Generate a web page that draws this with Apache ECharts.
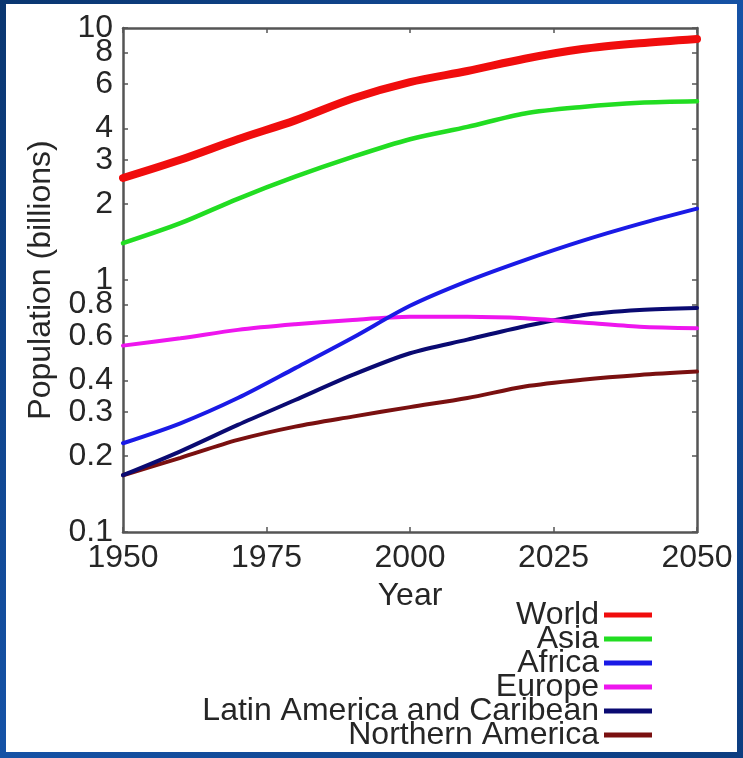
<!DOCTYPE html>
<html>
<head>
<meta charset="utf-8">
<script src="https://cdn.jsdelivr.net/npm/echarts@6/dist/echarts.min.js"></script>
<style>
html,body{margin:0;padding:0;background:#0d3f85;}
#chart{width:743px;height:758px;}
</style>
</head>
<body>
<div id="chart"></div>
<script>
// ---- data ----
const years = [1950, 1960, 1970, 1980, 1990, 2000, 2010, 2020, 2030, 2040, 2050];
const seriesNames = ['World', 'Asia', 'Africa', 'Europe', 'Latin America and Caribean', 'Northern America'];
const world    = [2.54, 3.00, 3.62, 4.30, 5.25, 6.10, 6.75, 7.55, 8.25, 8.70, 9.05];
const asia     = [1.40, 1.68, 2.10, 2.57, 3.08, 3.62, 4.05, 4.58, 4.86, 5.05, 5.12];
const africa   = [0.225, 0.270, 0.340, 0.447, 0.590, 0.790, 0.990, 1.20, 1.43, 1.67, 1.92];
const europe   = [0.549, 0.587, 0.634, 0.667, 0.694, 0.714, 0.715, 0.705, 0.678, 0.653, 0.644];
const latin    = [0.168, 0.209, 0.266, 0.334, 0.420, 0.512, 0.580, 0.655, 0.725, 0.760, 0.775];
const northAm  = [0.168, 0.197, 0.232, 0.262, 0.287, 0.313, 0.340, 0.378, 0.402, 0.420, 0.433];
const yTickValues = [0.1, 0.2, 0.3, 0.4, 0.6, 0.8, 1, 2, 3, 4, 6, 8, 10];
const yTickLabels = ['0.1', '0.2', '0.3', '0.4', '0.6', '0.8', '1', '2', '3', '4', '6', '8', '10'];
const xTickLabels = ['1950', '1975', '2000', '2025', '2050'];

const seriesValues = [world, asia, africa, europe, latin, northAm];
const colors = ['#f00d0d', '#22dd22', '#1a1ae6', '#ee16ee', '#0a0a72', '#7a1010'];
const widths = [8, 4.5, 4, 4, 4, 4];

const FONT = '"Liberation Sans", Arial, sans-serif';
const TXT = '#262626';
const AX = '#555555';

// label positions on a linear helper axis spanning log10(0.1)..log10(10)
const logPos = yTickValues.map(v => Math.log10(v));
const logPosEven = logPos.filter((p, i) => i % 2 === 0);  // 0.1, 0.3, 0.6, 1, 3, 6, 10
const logPosOdd = logPos.filter((p, i) => i % 2 === 1);   // 0.2, 0.4, 0.8, 2, 4, 8
function labelFor(val) {
  let best = 0, bd = 1e9;
  logPos.forEach((p, i) => { const d = Math.abs(p - val); if (d < bd) { bd = d; best = i; } });
  return yTickLabels[best];
}

const chart = echarts.init(document.getElementById('chart'), null, {renderer: 'canvas'});
const axisLineStyle = {show: true, onZero: false, lineStyle: {color: AX, width: 2.5}};
const tickStyle = {color: AX, width: 1.5};
const yLabelStyle = {fontFamily: FONT, fontSize: 32, color: TXT, margin: 10,
  showMinLabel: true, showMaxLabel: true, hideOverlap: false};
const option = {
  animation: false,
  backgroundColor: {
    type: 'linear', x: 0, y: 0, x2: 1, y2: 1,
    colorStops: [
      {offset: 0, color: '#0a3670'},
      {offset: 0.5, color: '#1552a6'},
      {offset: 1, color: '#0c3d80'}
    ]
  },
  graphic: [{
    type: 'rect', z: -10, silent: true,
    shape: {x: 6, y: 4, width: 731, height: 748},
    style: {fill: '#ffffff'}
  }],
  grid: {left: 123, right: 46, top: 28, bottom: 226, containLabel: false},
  legend: {
    orient: 'vertical',
    right: 91,
    top: 599,
    height: 170,
    padding: 0,
    align: 'right',
    itemWidth: 48,
    itemHeight: 5,
    itemGap: -8,
    icon: 'rect',
    textStyle: {fontFamily: FONT, fontSize: 32, color: TXT},
    data: seriesNames
  },
  xAxis: [{
    type: 'value', min: 1950, max: 2050, interval: 25,
    position: 'bottom',
    name: 'Year', nameLocation: 'middle', nameGap: 48,
    nameTextStyle: {fontFamily: FONT, fontSize: 32, color: TXT},
    axisLine: axisLineStyle,
    axisTick: {show: true, inside: true, length: 5, lineStyle: tickStyle},
    axisLabel: {fontFamily: FONT, fontSize: 32, color: TXT, margin: 10,
      showMinLabel: true, showMaxLabel: true,
      formatter: v => xTickLabels[Math.round((v - 1950) / 25)]},
    splitLine: {show: false}
  }, {
    type: 'value', min: 1950, max: 2050, interval: 25,
    position: 'top',
    axisLine: axisLineStyle,
    axisTick: {show: true, inside: true, length: 5, lineStyle: tickStyle},
    axisLabel: {show: false},
    splitLine: {show: false}
  }],
  yAxis: [{
    type: 'log', logBase: 10, min: 0.1, max: 10,
    position: 'left',
    axisLine: {show: false, onZero: false}, axisTick: {show: false}, axisLabel: {show: false},
    splitLine: {show: false}, minorTick: {show: false}
  }, {
    type: 'value', min: -1, max: 1,
    position: 'left',
    name: 'Population (billions)', nameLocation: 'middle', nameGap: 66,
    nameTextStyle: {fontFamily: FONT, fontSize: 32, color: TXT},
    axisLine: axisLineStyle,
    axisTick: {show: true, inside: true, length: 5, customValues: logPos, lineStyle: tickStyle},
    axisLabel: Object.assign({show: true, customValues: logPosEven, formatter: v => labelFor(v)}, yLabelStyle),
    splitLine: {show: false}
  }, {
    type: 'value', min: -1, max: 1,
    position: 'left',
    axisLine: {show: false, onZero: false},
    axisTick: {show: false},
    axisLabel: Object.assign({show: true, customValues: logPosOdd, formatter: v => labelFor(v)}, yLabelStyle),
    splitLine: {show: false}
  }, {
    type: 'value', min: -1, max: 1,
    position: 'right',
    axisLine: axisLineStyle,
    axisTick: {show: true, inside: true, length: 5, customValues: logPos, lineStyle: tickStyle},
    axisLabel: {show: false},
    splitLine: {show: false}
  }],
  series: seriesNames.map((name, i) => ({
    name: name,
    type: 'line',
    xAxisIndex: 0,
    yAxisIndex: 0,
    smooth: 0.3,
    showSymbol: false,
    symbol: 'none',
    color: colors[i],
    lineStyle: {color: colors[i], width: widths[i], cap: 'round'},
    z: 10 - i,
    data: years.map((y, k) => [y, seriesValues[i][k]])
  }))
};
chart.setOption(option);
</script>
</body>
</html>
